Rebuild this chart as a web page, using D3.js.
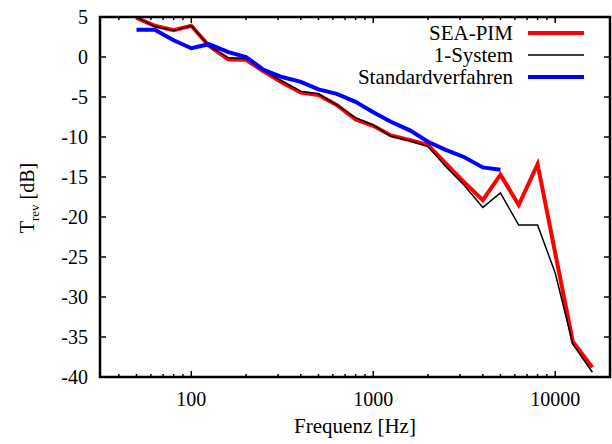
<!DOCTYPE html>
<meta charset="utf-8">
<script src="https://d3js.org/d3.v7.min.js"></script>
<style>
  body { margin: 0; background: white; }
  text { font-family: "Liberation Serif", "Times New Roman", serif; }
</style>
<div id="chart"></div>
<script>
// third-octave band centre frequencies
var freqs = [50, 63, 80, 100, 125, 160, 200, 250, 315, 400, 500, 630, 800, 1000,
             1250, 1600, 2000, 2500, 3150, 4000, 5000, 6300, 8000, 10000, 12500, 16000];
var seaPim = [4.9, 3.9, 3.35, 3.9, 1.4, -0.3, -0.35, -1.8, -3.2, -4.45, -4.75, -6.0, -7.8, -8.6,
              -9.8, -10.4, -11.0, -13.3, -15.6, -17.9, -14.7, -18.5, -13.4, -24.5, -35.6, -38.8];
var oneSystem = [5.0, 3.8, 3.3, 3.9, 1.4, -0.1, -0.2, -1.7, -3.0, -4.3, -4.6, -6.0, -7.6, -8.5,
                 -9.9, -10.5, -11.2, -13.7, -16.0, -18.8, -17.0, -21.0, -21.0, -27.0, -35.9, -39.4];
var standard = [3.4, 3.4, 2.1, 1.1, 1.6, 0.6, 0.0, -1.6, -2.5, -3.1, -4.05, -4.6, -5.6, -6.9,
                -8.1, -9.2, -10.6, -11.6, -12.5, -13.8, -14.1];
var yTicks = [5, 0, -5, -10, -15, -20, -25, -30, -35, -40];
var xTicks = [100, 1000, 10000];

var W = 612, H = 444;
var margin = {top: 17, right: 2, bottom: 67, left: 100},
    width = W - margin.left - margin.right,
    height = H - margin.top - margin.bottom;

var svg = d3.select("#chart").append("svg")
    .attr("width", W).attr("height", H);
var g = svg.append("g")
    .attr("transform", "translate(" + margin.left + "," + margin.top + ")");

var x = d3.scaleLog().domain([31.5, 20000]).range([0, width]);
var y = d3.scaleLinear().domain([-40, 5]).range([height, 0]);

// minor ticks 40..90, 200..900 etc
var minor = [];
[10, 100, 1000, 10000].forEach(function(d) {
  for (var k = 2; k <= 9; k++) {
    var v = d * k;
    if (v > 31.5 && v < 20000 && xTicks.indexOf(v) < 0) minor.push(v);
  }
});

// axes (ticks drawn inward, mirrored like gnuplot)
var tickG = g.append("g").attr("stroke", "black").attr("stroke-width", 1.5);
xTicks.forEach(function(d) {
  tickG.append("line").attr("x1", x(d)).attr("x2", x(d)).attr("y1", height).attr("y2", height - 6);
  tickG.append("line").attr("x1", x(d)).attr("x2", x(d)).attr("y1", 0).attr("y2", 6);
});
minor.forEach(function(d) {
  tickG.append("line").attr("x1", x(d)).attr("x2", x(d)).attr("y1", height).attr("y2", height - 3);
  tickG.append("line").attr("x1", x(d)).attr("x2", x(d)).attr("y1", 0).attr("y2", 3);
});
yTicks.forEach(function(d) {
  tickG.append("line").attr("x1", 0).attr("x2", 6).attr("y1", y(d)).attr("y2", y(d));
  tickG.append("line").attr("x1", width).attr("x2", width - 6).attr("y1", y(d)).attr("y2", y(d));
});

g.selectAll(".ylab").data(yTicks).enter().append("text")
  .attr("x", -12).attr("y", function(d) { return y(d); })
  .attr("dy", "0.35em").attr("text-anchor", "end")
  .attr("font-size", 20).text(function(d) { return d; });

g.selectAll(".xlab").data(xTicks).enter().append("text")
  .attr("x", function(d) { return x(d); }).attr("y", height + 29)
  .attr("text-anchor", "middle").attr("font-size", 20)
  .text(function(d) { return d; });

svg.append("text")
  .attr("x", 355).attr("y", 433)
  .attr("text-anchor", "middle").attr("font-size", 21)
  .text("Frequenz [Hz]");

var yt = svg.append("text")
  .attr("transform", "translate(34,198) rotate(-90)")
  .attr("text-anchor", "middle").attr("font-size", 20);
yt.append("tspan").text("T");
yt.append("tspan").attr("font-size", 13).attr("dy", 5).text("rev");
yt.append("tspan").attr("dy", -5).text(" [dB]");

// lines
g.append("clipPath").attr("id", "clip").append("rect")
  .attr("width", width).attr("height", height);

var line = d3.line()
  .x(function(d) { return x(d[0]); })
  .y(function(d) { return y(d[1]); });

var series = [
  {name: "SEA-PIM", vals: seaPim, color: "#ff0000", w: 4},
  {name: "1-System", vals: oneSystem, color: "#000000", w: 1.5},
  {name: "Standardverfahren", vals: standard, color: "#0000ff", w: 4}
];

series.forEach(function(s, i) {
  var pts = s.vals.map(function(v, j) { return [freqs[j], v]; });
  g.append("path").datum(pts)
    .attr("clip-path", "url(#clip)")
    .attr("fill", "none").attr("stroke", s.color)
    .attr("stroke-width", s.w).attr("stroke-linejoin", "miter")
    .attr("d", line);

  // legend
  var ly = 16 + i * 22;
  g.append("text").attr("x", 413).attr("y", ly).attr("dy", "0.35em")
    .attr("text-anchor", "end").attr("font-size", 21).text(s.name);
  g.append("line").attr("x1", 428).attr("x2", 484).attr("y1", ly).attr("y2", ly)
    .attr("stroke", s.color).attr("stroke-width", s.w);
});

// frame
g.append("rect").attr("width", width).attr("height", height)
  .attr("fill", "none").attr("stroke", "black").attr("stroke-width", 2.5);
</script>
